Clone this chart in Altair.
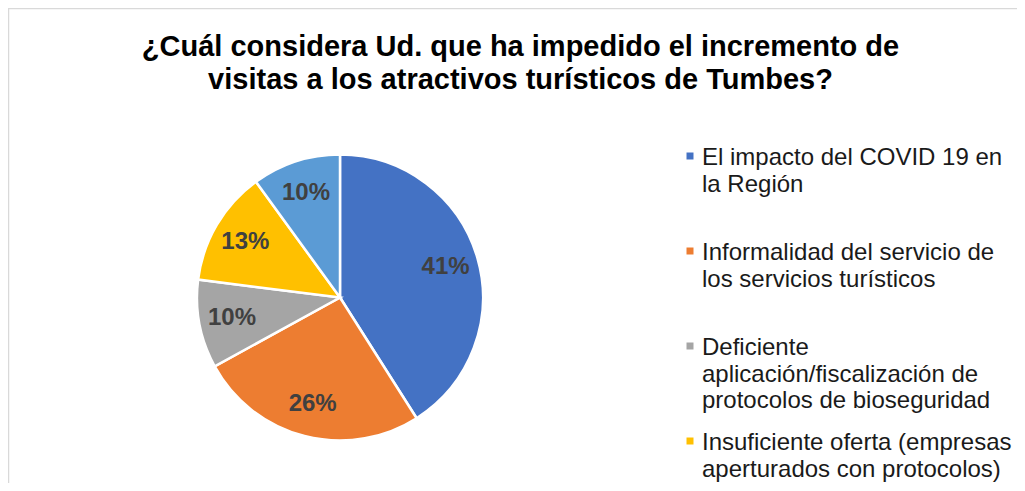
import altair as alt
import pandas as pd

categories = [
    "El impacto del COVID 19 en la Región",
    "Informalidad del servicio de los servicios turísticos",
    "Deficiente aplicación/fiscalización de protocolos de bioseguridad",
    "Insuficiente oferta (empresas aperturados con protocolos)",
    "Otros",
]
legend_labels = [
    "El impacto del COVID 19 en\nla Región",
    "Informalidad del servicio de\nlos servicios turísticos",
    "Deficiente\naplicación/fiscalización de\nprotocolos de bioseguridad",
    "Insuficiente oferta (empresas\naperturados con protocolos)",
    "Otros",
]
shares = [0.41, 0.26, 0.10, 0.13, 0.10]
colors = ["#4472C4", "#ED7D31", "#A5A5A5", "#FFC000", "#5B9BD5"]

title_lines = [
    "¿Cuál considera Ud. que ha impedido el incremento de",
    "visitas a los atractivos turísticos de Tumbes?",
]

df = pd.DataFrame({
    "cat": categories,
    "label": legend_labels,
    "value": shares,
    "idx": list(range(len(categories))),
})

FONT = "Liberation Sans"
W, H, TOP = 1009, 375, 100
CX, CY, R = 332, 189.5, 143

color = alt.Color("cat:N", scale=alt.Scale(domain=categories, range=colors), legend=None)
base = alt.Chart(df)

pie = base.mark_arc(outerRadius=R, stroke="white", strokeWidth=2.5).encode(
    theta=alt.Theta("value:Q", stack=True),
    order=alt.Order("idx:Q"),
    color=color,
    x=alt.value(CX),
    y=alt.value(CY),
)

pct = base.mark_text(radius=110, font=FONT, fontSize=24, fontWeight="bold",
                     color="#404040", align="center", baseline="middle").encode(
    theta=alt.Theta("value:Q", stack=True),
    order=alt.Order("idx:Q"),
    text=alt.Text("value:Q", format=".0%"),
    x=alt.value(CX),
    y=alt.value(CY),
)

# legend (only the entries visible in the cropped reference)
yscale = alt.Scale(domain=[0, 4], range=[48, 428], zero=False, nice=False)
leg_base = base.transform_filter("datum.idx < 4")

leg_sym = leg_base.mark_square(size=49, opacity=1).encode(
    x=alt.value(682),
    y=alt.Y("idx:Q", scale=yscale, axis=None),
    color=color,
)

leg_txt = leg_base.mark_text(align="left", baseline="alphabetic", lineBreak="\n",
                             font=FONT, fontSize=24, lineHeight=26.5, color="#1A1A1A",
                             dy=9).encode(
    x=alt.value(694),
    y=alt.Y("idx:Q", scale=yscale, axis=None),
    text="label:N",
)

border_df = pd.DataFrame({"k": [0]})
border_top = alt.Chart(border_df).mark_rule(color="#D9D9D9", strokeWidth=1.3).encode(
    x=alt.value(0), x2=alt.value(W), y=alt.value(-TOP + 0.6)
)
border_left = alt.Chart(border_df).mark_rule(color="#D9D9D9", strokeWidth=1.3).encode(
    x=alt.value(0.6), y=alt.value(-TOP), y2=alt.value(H)
)

chart = alt.layer(border_top, border_left, pie, pct, leg_sym, leg_txt).properties(
    width=W,
    height=H,
    autosize=alt.AutoSizeParams(type="none"),
    padding={"left": 0, "top": TOP, "right": 0, "bottom": 0},
    title=alt.TitleParams(
        text=title_lines, font=FONT, fontSize=29, fontWeight="bold", color="#000000",
        anchor="middle", dx=8, offset=-88, lineHeight=33,
    ),
    background="white",
).configure_view(stroke=None)

chart.save("out.html", embed_options={"renderer": "svg", "actions": False})
